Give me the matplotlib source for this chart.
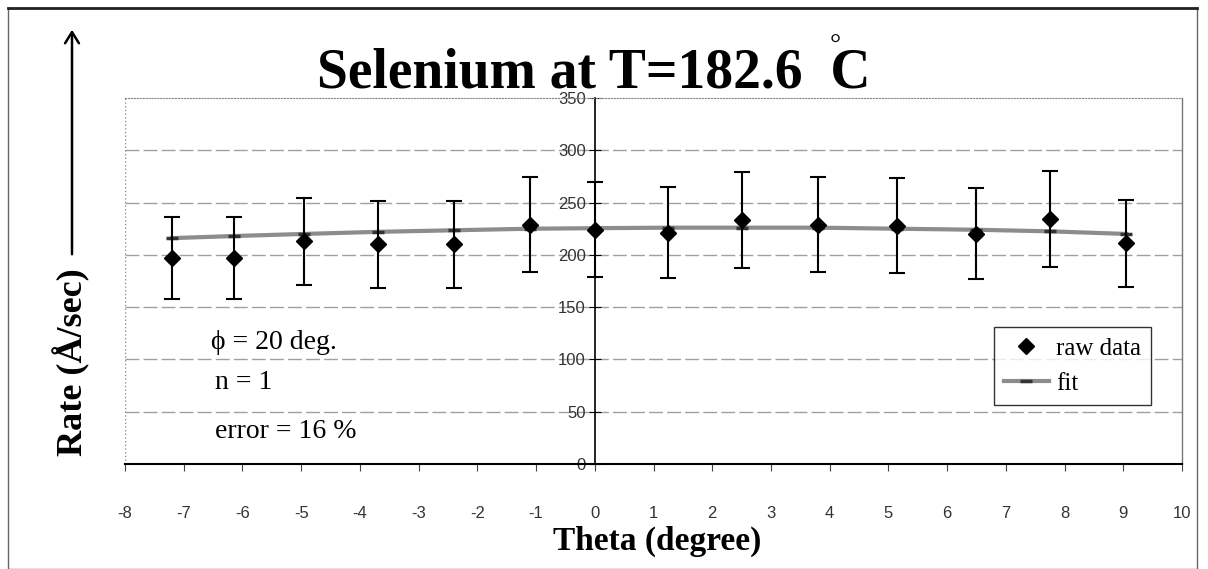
import matplotlib
matplotlib.use("Agg")
import matplotlib.pyplot as plt
from matplotlib.lines import Line2D
from matplotlib.patches import Rectangle, FancyArrowPatch

plt.rcParams["axes.unicode_minus"] = False

theta = [-7.2, -6.15, -4.95, -3.7, -2.4, -1.1, 0.0, 1.25, 2.5, 3.8, 5.15, 6.5, 7.75, 9.05]
rate = [197, 197, 213, 210, 210, 229, 224, 221, 233, 229, 228, 220, 234, 211]
rate_err = [39.5, 39.5, 41.5, 41.5, 41.5, 45.5, 45.5, 43.5, 46, 45, 45.5, 43.5, 46, 41.5]
fit = [216, 218, 220, 222, 223.5, 225, 225.5, 226, 226, 226, 225, 224, 222.5, 220]

x_ticks = list(range(-8, 11))
y_ticks = list(range(0, 351, 50))

serif = ["Liberation Serif", "DejaVu Serif"]
sans = ["Liberation Sans", "DejaVu Sans"]

W, H = 1208, 569
fig = plt.figure(figsize=(W / 100, H / 100), dpi=100)
ax = fig.add_axes([125 / W, 1 - 464 / H, (1182 - 125) / W, (464 - 98) / H])

# horizontal gridlines
for yv in y_ticks[1:-1]:
    ax.axhline(yv, color="#a0a0a0", lw=1, ls=(0, (10, 3)), zorder=0)

# error bars and points
ax.errorbar(theta, rate, yerr=rate_err, fmt="none", ecolor="black",
            elinewidth=1.5, capsize=5.5, capthick=1.5, zorder=3)
ax.plot(theta, fit, color="#8c8c8c", lw=3, marker="_", ms=9, mew=2.5,
        mec="#333333", zorder=2, label="fit")
ax.plot(theta, rate, ls="none", marker="D", ms=8, color="black", zorder=4,
        label="raw data")

ax.set_xlim(-8, 10)
ax.set_ylim(0, 350)
ax.set_xticks(x_ticks)
ax.set_yticks(y_ticks)

# y axis crosses at theta = 0
ax.spines["left"].set_position(("data", 0))
ax.spines["left"].set_color("black")
ax.spines["left"].set_linewidth(1.2)
ax.spines["bottom"].set_linewidth(1.5)
ax.spines["right"].set_color("#777777")
ax.spines["right"].set_linewidth(1)
ax.spines["top"].set_color("#888888")
ax.spines["top"].set_linestyle(":")
ax.axvline(-8, color="#888888", lw=1, ls=":", zorder=0)

ax.tick_params(axis="y", direction="inout", length=9, pad=2, labelsize=12,
               labelcolor="#333333")
ax.tick_params(axis="x", direction="out", length=5, pad=25, labelsize=12,
               labelcolor="#333333", color="#444444")
for lbl in ax.get_xticklabels() + ax.get_yticklabels():
    lbl.set_family(sans)

# annotations inside the plot
ax.text(-6.53, 116, "\u03d5 = 20 deg.", family=serif, fontsize=20, va="center")
ax.text(-6.46, 78, "n = 1", family=serif, fontsize=20, va="center")
ax.text(-6.46, 31, "error = 16 %", family=serif, fontsize=20, va="center")

handles, labels = ax.get_legend_handles_labels()
leg = ax.legend(handles[::-1], labels[::-1], loc="upper right",
                bbox_to_anchor=(0.971, 0.374), prop={"family": serif, "size": 18},
                frameon=True, fancybox=False, edgecolor="black", numpoints=1,
                handlelength=1.8, handletextpad=0.3, labelspacing=0.5,
                borderpad=0.4, borderaxespad=0)
leg.get_frame().set_linewidth(1)

# title with raised degree ring
fig.text(594 / W, 1 - 88 / H, "Selenium at T=182.6  C", family=serif,
         fontsize=40, fontweight="bold", ha="center", va="baseline")
fig.text(835 / W, 1 - 46 / H, "\u00b0", family=serif, fontsize=20,
         ha="center", va="center")

fig.text(657 / W, 1 - 550 / H, "Theta (degree)", family=serif, fontsize=24,
         fontweight="bold", ha="center", va="baseline")
fig.text(72 / W, 1 - 362 / H, "Rate (\u00c5/sec)", family=serif, fontsize=26,
         fontweight="bold", ha="center", va="center", rotation=90)

# arrow beside the y label
fig.add_artist(FancyArrowPatch(
    (72 / W, 1 - 257 / H), (72 / W, 1 - 27 / H), transform=fig.transFigure,
    arrowstyle="->,head_length=8,head_width=5", lw=1.8, color="black"))

# scanned page border
fig.add_artist(Rectangle((8 / W, 0), (1197 - 8) / W, (561 - 0) / H,
                         transform=fig.transFigure, fill=False,
                         edgecolor="#666666", lw=1))
fig.add_artist(Line2D([8 / W, 1197 / W], [1 - 8 / H, 1 - 8 / H],
                      transform=fig.transFigure, color="#222222", lw=2))

fig.savefig("out.png", dpi=100)
